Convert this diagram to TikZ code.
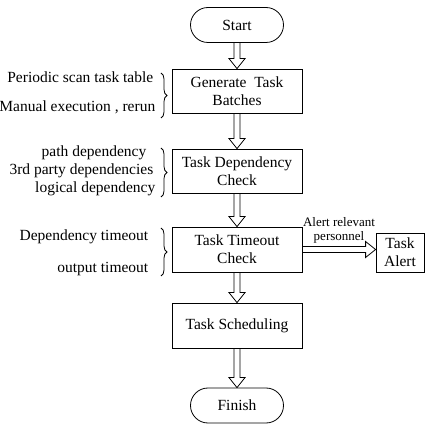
\documentclass[tikz,border=0pt]{standalone}
\usepackage{fontspec}
\setmainfont{Liberation Serif}
\usetikzlibrary{calc,shapes.misc,decorations.pathreplacing}
\newcommand{\fatdown}[2]{%
  \draw[fat] ($(#1.south)+(-3,0)$) -- ($(#2.north)+(-3,10)$) -- ($(#2.north)+(-8,10)$)
    -- (#2.north) -- ($(#2.north)+(8,10)$) -- ($(#2.north)+(3,10)$) -- ($(#1.south)+(3,0)$);}
\newcommand{\fatright}[2]{%
  \draw[fat] ($(#1)+(0,3)$) -- ($(#2)+(-10,3)$) -- ($(#2)+(-10,8)$)
    -- (#2) -- ($(#2)+(-10,-8)$) -- ($(#2)+(-10,-3)$) -- ($(#1)+(0,-3)$);}

\begin{document}
\begin{tikzpicture}[x=1pt, y=1pt, line width=0.8pt,
    every node/.style={font=\fontsize{15.5}{18}\selectfont},
    stepbox/.style={draw, minimum width=130, align=center, inner sep=0},
    termbox/.style={draw, rounded rectangle, minimum width=93, minimum height=35, inner sep=0},
    fat/.style={line join=miter},
    curly/.style={decorate, decoration={brace, amplitude=6}}]
        \useasboundingbox (0, 0) rectangle (432, 432);
        \node [termbox] (ST) at (237, 407) {Start};
        \node [stepbox, minimum height=44] (GB) at (237, 341) {Generate\ \ Task\\Batches};
        \node [stepbox, minimum height=44] (DC) at (237, 261) {Task Dependency\\Check};
        \node [stepbox, minimum height=45] (TC) at (237, 182.5) {Task Timeout\\Check};
        \node [stepbox, minimum height=45] (SC) at (237, 106.5) {Task Scheduling};
        \node [termbox] (FI) at (237, 26.5) {Finish};
        \node [draw, minimum width=48, minimum height=39, align=center, inner sep=0] (AL) at (400, 179.5) {Task\\Alert};
        % inputs on the left
        \node [anchor=east] (PS) at (157, 355) {Periodic scan task table};
        \node [anchor=east] (ME) at (159, 325) {Manual execution , rerun};
        \node [anchor=east] (PD) at (150, 279) {path dependency};
        \node [anchor=east] (TP) at (157, 261) {3rd party dependencies};
        \node [anchor=east] (LD) at (159, 243) {logical dependency};
        \node [anchor=east] (DT) at (152, 195) {Dependency timeout};
        \node [anchor=east] (OT) at (152, 163) {output timeout};
        \draw [curly] (161, 359) -- (161, 314);
        \draw [curly] (161, 284) -- (161, 235);
        \draw [curly] (161, 204) -- (161, 156);
        % flow
        \fatdown{ST}{GB}
        \fatdown{GB}{DC}
        \fatdown{DC}{TC}
        \fatdown{TC}{SC}
        \fatdown{SC}{FI}
        \coordinate (AT) at (AL.west |- TC.east);
        \fatright{TC.east}{AT}
        \node [font=\fontsize{13}{14}\selectfont, align=center, inner sep=0] (AR) at (339, 202) {Alert relevant\\personnel};
\end{tikzpicture}
\end{document}
